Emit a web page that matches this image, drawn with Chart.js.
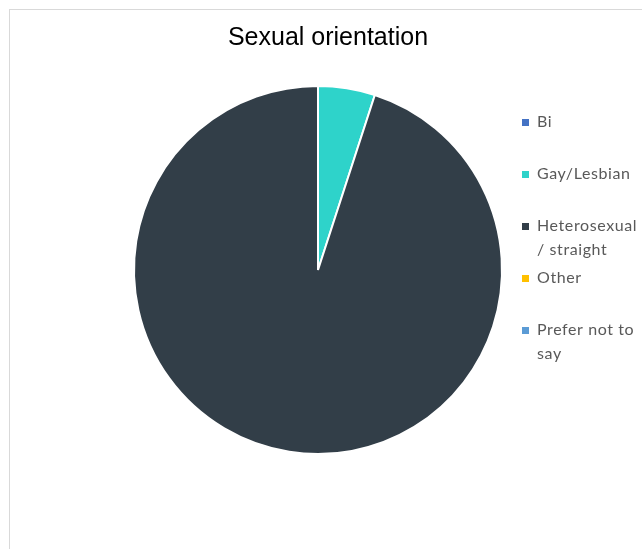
<!DOCTYPE html>
<html>
<head>
<meta charset="utf-8">
<script src="https://cdn.jsdelivr.net/npm/chart.js@4/dist/chart.umd.min.js"></script>
<style>
  html, body { margin: 0; padding: 0; background: #fff; }
  #wrap { position: relative; width: 642px; height: 549px; overflow: hidden; }
  #frame { position: absolute; left: 9px; top: 9px; width: 700px; height: 600px; border: 1px solid #d9d9d9; box-sizing: border-box; }
  #chart { position: absolute; left: 0; top: 0; }
</style>
</head>
<body>
<div id="wrap">
  <div id="frame"></div>
  <canvas id="chart" width="642" height="549"></canvas>
</div>
<script>
const chartTitle = 'Sexual orientation';
const categories = ['Bi', 'Gay/Lesbian', 'Heterosexual / straight', 'Other', 'Prefer not to say'];
const legendLines = [['Bi'], ['Gay/Lesbian'], ['Heterosexual', '/ straight'], ['Other'], ['Prefer not to', 'say']];
const shares = [0, 5, 95, 0, 0];
const colours = ['#4472c4', '#2ed3ca', '#323e48', '#ffc000', '#5b9bd5'];

// title centred on the frame, not on the pie area
const frameTitle = {
  id: 'frameTitle',
  afterDraw(chart) {
    const ctx = chart.ctx;
    ctx.save();
    ctx.font = '25px "Liberation Sans", Arial, sans-serif';
    ctx.fillStyle = '#000000';
    ctx.textAlign = 'center';
    ctx.textBaseline = 'middle';
    ctx.fillText(chartTitle, 328, 38);
    ctx.restore();
  }
};

// legend drawn by hand so long names can wrap onto two lines
const sideLegend = {
  id: 'sideLegend',
  afterDraw(chart) {
    const ctx = chart.ctx;
    const ds = chart.data.datasets[0];
    ctx.save();
    ctx.font = '16px Lato, "Noto Sans", sans-serif';
    ctx.letterSpacing = '0.6px';
    ctx.textBaseline = 'middle';
    chart.data.labels.forEach((lab, i) => {
      const y = 122 + i * 52;
      ctx.fillStyle = ds.backgroundColor[i];
      ctx.fillRect(522, y - 3, 7, 7);
      ctx.fillStyle = '#595959';
      legendLines[i].forEach((line, j) => {
        ctx.fillText(line, 537, y + j * 24);
      });
    });
    ctx.restore();
  }
};

new Chart(document.getElementById('chart').getContext('2d'), {
  type: 'pie',
  data: {
    labels: categories,
    datasets: [{
      data: shares,
      backgroundColor: colours,
      borderColor: '#ffffff',
      borderWidth: 2,
      hoverOffset: 0
    }]
  },
  options: {
    responsive: false,
    animation: false,
    layout: { padding: { left: 133, right: 139, top: 85, bottom: 94 } },
    plugins: {
      legend: { display: false },
      tooltip: { enabled: false },
      title: { display: false }
    }
  },
  plugins: [frameTitle, sideLegend]
});
</script>
</body>
</html>
